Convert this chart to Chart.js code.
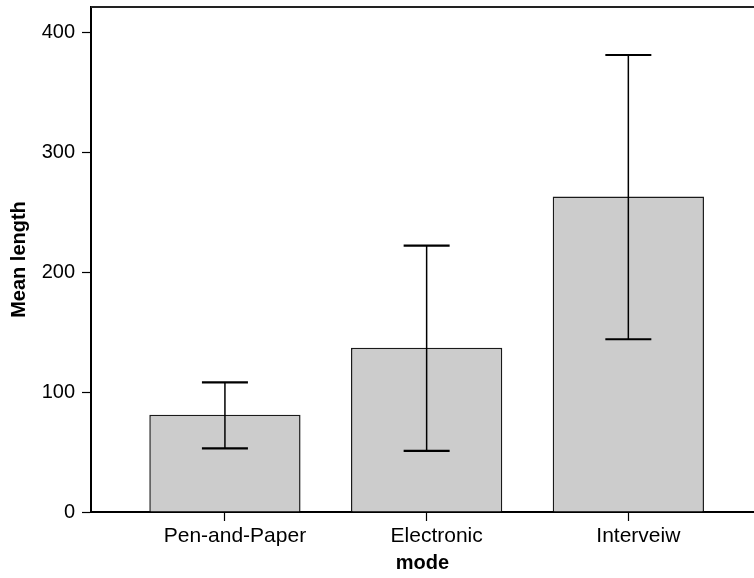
<!DOCTYPE html>
<html>
<head>
    <title>Mean length by mode</title>
    <script src="https://cdn.jsdelivr.net/npm/chart.js"></script>
    <style>
        body { margin: 0; background: #fff; }
    </style>
</head>
<body>
    <canvas id="meanChart" width="754" height="578"></canvas>
    <script>
        // Data
        const categories = ['Pen-and-Paper', 'Electronic', 'Interveiw'];
        const means = [81, 137, 263];
        const lower = [53, 51, 144];
        const upper = [108, 222, 381];
        const yTicks = [0, 100, 200, 300, 400];

        Chart.defaults.font.family = "'Liberation Sans', Arial, sans-serif";
        Chart.defaults.color = '#000';

        // Error bars drawn through the chart's scales
        const errorBars = {
            id: 'errorBars',
            afterDatasetsDraw(chart) {
                const { ctx, scales: { x, y } } = chart;
                ctx.save();
                ctx.strokeStyle = '#000';
                lower.forEach((lo, i) => {
                    const px = x.getPixelForValue(i + 1);
                    const pTop = y.getPixelForValue(upper[i]);
                    const pBot = y.getPixelForValue(lo);
                    ctx.lineWidth = 1.5;
                    ctx.beginPath();
                    ctx.moveTo(px, pTop);
                    ctx.lineTo(px, pBot);
                    ctx.stroke();
                    ctx.lineWidth = 2.2;
                    ctx.beginPath();
                    ctx.moveTo(px - 23, pTop);
                    ctx.lineTo(px + 23, pTop);
                    ctx.moveTo(px - 23, pBot);
                    ctx.lineTo(px + 23, pBot);
                    ctx.stroke();
                });
                ctx.restore();
            }
        };

        // top frame line
        const topLine = {
            id: 'topLine',
            afterDraw(chart) {
                const { ctx, chartArea } = chart;
                ctx.save();
                ctx.strokeStyle = '#222';
                ctx.lineWidth = 2;
                ctx.beginPath();
                ctx.moveTo(chartArea.left, chartArea.top);
                ctx.lineTo(chartArea.right, chartArea.top);
                ctx.stroke();
                ctx.restore();
            }
        };

        const ctx = document.getElementById('meanChart').getContext('2d');
        const chart = new Chart(ctx, {
            type: 'bar',
            data: {
                datasets: [{
                    data: categories.map((c, i) => ({ x: i + 1, y: means[i] })),
                    backgroundColor: '#cccccc',
                    borderColor: '#1a1a1a',
                    borderWidth: 1.5,
                    barPercentage: 0.75,
                    categoryPercentage: 1
                }]
            },
            options: {
                responsive: false,
                animation: false,
                layout: { padding: { top: 7, right: 0, left: 0, bottom: 0 } },
                plugins: {
                    legend: { display: false },
                    tooltip: { enabled: false }
                },
                scales: {
                    x: {
                        type: 'linear',
                        offset: false,
                        min: 0.336,
                        max: 3.623,
                        afterBuildTicks: s => { s.ticks = categories.map((c, i) => ({ value: i + 1 })); },
                        afterFit: s => { s.height = 66; s.paddingLeft = 0; s.paddingRight = 0; },
                        ticks: {
                            callback: (v) => categories[v - 1],
                            font: { size: 21 },
                            padding: 3,
                            labelOffset: 10,
                            maxRotation: 0,
                            autoSkip: false
                        },
                        grid: {
                            offset: false,
                            drawOnChartArea: false,
                            drawTicks: true,
                            tickLength: 9,
                            tickColor: '#000',
                            tickWidth: 1.2
                        },
                        border: { color: '#000', width: 2 },
                        title: {
                            display: true,
                            text: 'mode',
                            font: { size: 20, weight: 'bold' },
                            padding: { top: 0, bottom: 3 }
                        }
                    },
                    y: {
                        min: 0,
                        max: 421,
                        afterBuildTicks: s => { s.ticks = yTicks.map(v => ({ value: v })); },
                        afterFit: s => { s.width = 91; s.paddingTop = 0; s.paddingBottom = 0; },
                        ticks: {
                            font: { size: 20 },
                            padding: 7
                        },
                        grid: {
                            drawOnChartArea: false,
                            drawTicks: true,
                            tickLength: 9,
                            tickColor: '#000',
                            tickWidth: 1.2
                        },
                        border: { color: '#000', width: 2 },
                        title: {
                            display: true,
                            text: 'Mean length',
                            font: { size: 20, weight: 'bold' },
                            padding: { top: 7, bottom: 0 }
                        }
                    }
                }
            },
            plugins: [errorBars, topLine]
        });
    </script>
</body>
</html>
